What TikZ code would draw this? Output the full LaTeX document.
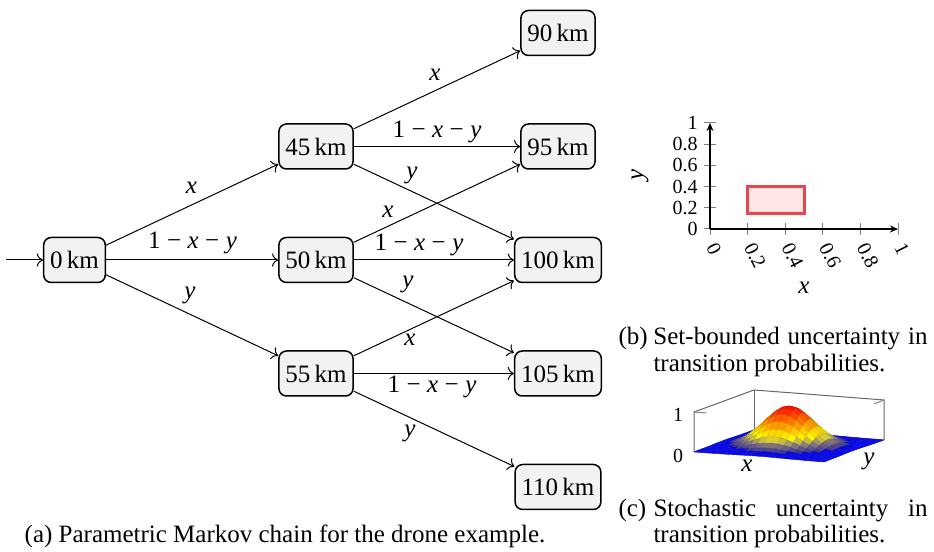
\documentclass[tikz,border=0pt]{standalone}
\usepackage{fontspec}
\setmainfont{Liberation Serif}
\usetikzlibrary{arrows.meta}

\newcommand\vx{\textit{x}}
\newcommand\vy{\textit{y}}
\newcommand\stayprob{1\kern2.6pt−\kern2.6pt\vx\kern2.6pt−\kern2.6pt\vy}
\definecolor{boxred}{RGB}{228,72,76}
\definecolor{hotblue}{RGB}{10,10,225}

\begin{document}
\begin{tikzpicture}[x=0.4pt,y=-0.4pt,
  state/.style={draw, line width=0.6pt, rounded corners=3pt, fill=gray!10,
    minimum height=18pt, inner xsep=2.6pt, inner ysep=0pt,
    font=\fontsize{10}{12}\selectfont},
  trans/.style={->, line width=0.4pt},
  prob/.style={inner sep=0pt, font=\fontsize{10}{12}\selectfont},
  captext/.style={inner sep=0pt, font=\fontsize{10}{10.8}\selectfont},
  tickmark/.style={black!50, line width=0.4pt},
  ticklbl/.style={inner sep=0pt, font=\fontsize{8}{9.6}\selectfont},
  axisline/.style={line width=0.5pt, -{Stealth[length=3.2pt,width=2.8pt]}},
  boxline/.style={black!60, line width=0.4pt},
]
\useasboundingbox (0,0) rectangle (934,552);

% ---------------- Markov chain ----------------
\node[state] (k0)   at (74.5,260)   {0\,km};
\node[state] (k45)  at (316,146.5)  {45\,km};
\node[state] (k50)  at (316,260)    {50\,km};
\node[state] (k55)  at (316,373.5)  {55\,km};
\node[state] (k90)  at (558,33)     {90\,km};
\node[state] (k95)  at (558,146.5)  {95\,km};
\node[state] (k100) at (558,260)    {100\,km};
\node[state] (k105) at (558,373.5)  {105\,km};
\node[state] (k110) at (558,487)    {110\,km};
\coordinate (init) at (6,260);

\draw[trans] (init) -- (k0);
\draw[trans] (k0) -- (k45);
\draw[trans] (k0) -- (k50);
\draw[trans] (k0) -- (k55);
\draw[trans] (k45) -- (k90);
\draw[trans] (k45) -- (k95);
\draw[trans] (k45) -- (k100);
\draw[trans] (k50) -- (k95);
\draw[trans] (k50) -- (k100);
\draw[trans] (k50) -- (k105);
\draw[trans] (k55) -- (k100);
\draw[trans] (k55) -- (k105);
\draw[trans] (k55) -- (k110);

\node[prob] (p0x) at (191.5,188)  {\vx};
\node[prob] (p0r) at (192.5,243)  {\stayprob};
\node[prob] (p0y) at (190,295)    {\vy};
\node[prob] (p1x) at (435,75)     {\vx};
\node[prob] (p1r) at (437,132)    {\stayprob};
\node[prob] (p1y) at (412,175)    {\vy};
\node[prob] (p2x) at (388,212)    {\vx};
\node[prob] (p2r) at (419,245)    {\stayprob};
\node[prob] (p2y) at (408,284)    {\vy};
\node[prob] (p3x) at (410,340)    {\vx};
\node[prob] (p3r) at (432,387)    {\stayprob};
\node[prob] (p3y) at (410,433)    {\vy};

\node[captext, anchor=base] (capa) at (285,542)
  {(a) Parametric Markov chain for the drone example.};

% ---------------- Set-bounded uncertainty ----------------
\foreach \t [count=\n] in {0,0.2,0.4,0.6,0.8,1} {
  \draw[tickmark] ({710+188*\t},223) -- ({710+188*\t},235);
  \node[ticklbl, rotate=-63, anchor=west] (xt\n) at ({711.5+188*\t},244) {\t};
  \draw[tickmark] (704,{229-106*\t}) -- (716,{229-106*\t});
  \node[ticklbl, anchor=east] (yt\n) at (698,{229-106*\t}) {\t};
}
\draw[boxred, fill=red!10, line width=1.2pt] (747.6,213.1) rectangle (804,186.6);
\coordinate (bo) at (710,229);
\coordinate (bxe) at (898,229);
\coordinate (bye) at (710,123);
\draw[axisline] (bo) -- (bxe);
\draw[axisline] (bo) -- (bye);
\node[prob] (bxl) at (804,288) {\vx};
\node[prob, rotate=90] (byl) at (640,175) {\vy};

\node[captext, anchor=base west] (capb1) at (618,345)
  {\makebox[14pt][l]{(b)}\makebox[109.6pt][s]{Set-bounded uncertainty in}};
\node[captext, anchor=base west] (capb2) at (653,372) {transition probabilities.};

% ---------------- Stochastic uncertainty ----------------
\coordinate (cA0) at (694,452);
\coordinate (cA1) at (694,412);
\coordinate (cD0) at (754,430);
\coordinate (cD1) at (754,390);
\coordinate (cC0) at (884,440);
\coordinate (cC1) at (884,400);
\draw[boxline] (cA0) -- (cD0) -- (cC0);
\draw[boxline] (cA0) -- (cA1) -- (cD1) -- (cC1) -- (cC0);
\draw[boxline] (cD0) -- (cD1);
\draw[tickmark] (cA1) -- ++(12,1);
\draw[tickmark] (cC1) -- ++(-10,4);

% surface z = exp(-(x^2+y^2)) on [-2,2]^2, painted from back to front
\foreach \j in {19,18,...,0} {
  \foreach \i in {0,1,...,19} {
    \pgfmathsetmacro\xa{-2+0.2*\i}
    \pgfmathsetmacro\xb{\xa+0.2}
    \pgfmathsetmacro\ya{-2+0.2*\j}
    \pgfmathsetmacro\yb{\ya+0.2}
    \pgfmathsetmacro\zaa{exp(max(-9,-(\xa*\xa+\ya*\ya)))}
    \pgfmathsetmacro\zba{exp(max(-9,-(\xb*\xb+\ya*\ya)))}
    \pgfmathsetmacro\zbb{exp(max(-9,-(\xb*\xb+\yb*\yb)))}
    \pgfmathsetmacro\zab{exp(max(-9,-(\xa*\xa+\yb*\yb)))}
    \pgfmathsetmacro\zm{(\zaa+\zba+\zbb+\zab)/4}
    \ifdim\zm pt<0.33333pt
      \pgfmathsetmacro\pc{min(100,max(0,400*(\zm-0.08)))}
      \colorlet{facet}{yellow!\pc!hotblue}
    \else\ifdim\zm pt<0.66667pt
      \pgfmathsetmacro\pc{min(100,max(0,300*\zm-100))}
      \colorlet{facet}{orange!\pc!yellow}
    \else
      \pgfmathsetmacro\pc{min(100,max(0,300*\zm-200))}
      \colorlet{facet}{red!\pc!orange}
    \fi\fi
    \ifdim\zm pt<0.05pt
      \colorlet{facetedge}{facet}
    \else
      \colorlet{facetedge}{facet!85!black}
    \fi
    \coordinate (s1) at ({694+130*\i/20+60*\j/20},{452+10*\i/20-22*\j/20-40*\zaa});
    \coordinate (s2) at ({694+130*(\i+1)/20+60*\j/20},{452+10*(\i+1)/20-22*\j/20-40*\zba});
    \coordinate (s3) at ({694+130*(\i+1)/20+60*(\j+1)/20},{452+10*(\i+1)/20-22*(\j+1)/20-40*\zbb});
    \coordinate (s4) at ({694+130*\i/20+60*(\j+1)/20},{452+10*\i/20-22*(\j+1)/20-40*\zab});
    \filldraw[fill=facet, draw=facetedge, line width=0.15pt, line join=round]
      (s1) -- (s2) -- (s3) -- (s4) -- cycle;
  }
}

\node[ticklbl] (zt1) at (678,415) {1};
\node[ticklbl] (zt0) at (678,456) {0};
\node[prob] (cxl) at (747,466) {\vx};
\node[prob] (cyl) at (869,461) {\vy};

\node[captext, anchor=base west] (capc1) at (618,517)
  {\makebox[14pt][l]{(c)}\makebox[109.6pt][s]{Stochastic uncertainty in}};
\node[captext, anchor=base west] (capc2) at (653,543) {transition probabilities.};
\end{tikzpicture}
\end{document}
